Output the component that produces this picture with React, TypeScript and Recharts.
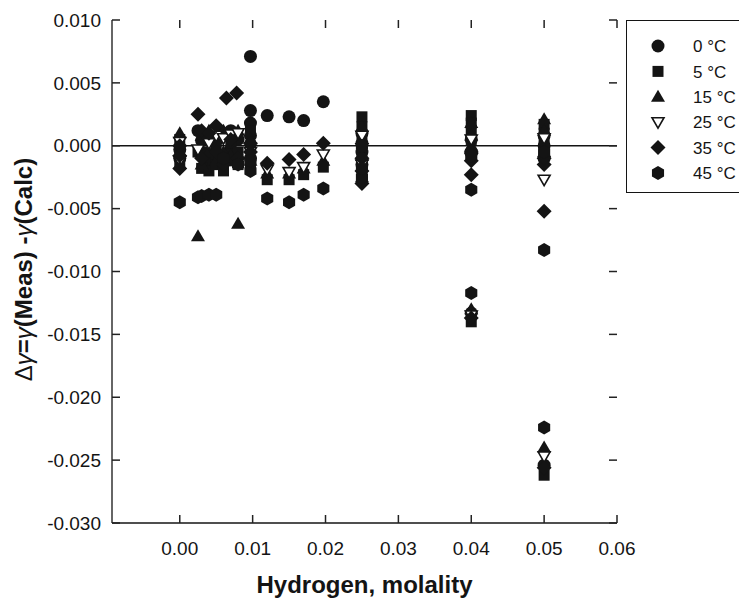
import { ReferenceLine, Scatter, ScatterChart, XAxis, YAxis } from 'recharts'

const FONT = '"Liberation Sans", Arial, Helvetica, sans-serif'
const INK = '#141414'

// [molality, Δγ] pairs
const pts0C = [
  [0, -0.0003], [0, -0.001], [0.0025, 0.0012], [0.003, 0.0004], [0.004, 0.0008],
  [0.004, -0.0012], [0.005, -0.0008], [0.006, 0.001], [0.007, 0.0012], [0.007, -0.0003],
  [0.008, 0.0005], [0.0097, 0.0071], [0.0097, 0.0028], [0.0097, 0.0018], [0.0097, 0.0008],
  [0.0097, -0.001], [0.012, 0.0024], [0.015, 0.0023], [0.017, 0.002], [0.0197, 0.0035],
  [0.025, 0.001], [0.025, 0.0002], [0.025, -0.0005], [0.025, -0.0015], [0.04, 0.0005],
  [0.04, -0.0005], [0.04, -0.0133], [0.05, 0.0008], [0.05, 0.0], [0.05, -0.001],
  [0.05, -0.0254],
]
const pts5C = [
  [0, 0.0005], [0, -0.0008], [0, -0.0015], [0.0025, -0.0005], [0.003, -0.0018],
  [0.003, -0.0005], [0.004, -0.002], [0.004, 0.0005], [0.005, -0.0015], [0.005, 0.0],
  [0.006, -0.001], [0.006, -0.002], [0.007, -0.0012], [0.007, 0.0002], [0.008, -0.0005],
  [0.008, -0.0015], [0.0097, 0.0012], [0.0097, 0.0], [0.0097, -0.0015], [0.012, -0.0027],
  [0.015, -0.0027], [0.017, -0.0023], [0.0197, -0.0017], [0.025, 0.0023], [0.025, 0.0015],
  [0.025, 0.0005], [0.025, -0.001], [0.025, -0.002], [0.04, 0.0024], [0.04, 0.0018],
  [0.04, 0.0012], [0.04, 0.0005], [0.04, -0.014], [0.05, 0.0017], [0.05, 0.001],
  [0.05, 0.0002], [0.05, -0.0008], [0.05, -0.0262],
]
const pts15C = [
  [0, 0.001], [0, -0.0005], [0.0025, -0.0072], [0.003, 0.0008], [0.003, -0.0015],
  [0.004, -0.0005], [0.004, 0.0012], [0.005, 0.0005], [0.005, -0.0012], [0.006, -0.0005],
  [0.006, 0.0012], [0.007, -0.0008], [0.008, -0.0062], [0.008, 0.0012], [0.0097, 0.0005],
  [0.0097, -0.0012], [0.012, -0.0022], [0.015, -0.0022], [0.017, -0.0018], [0.0197, -0.0012],
  [0.025, 0.0015], [0.025, -0.0008], [0.025, -0.0025], [0.04, 0.0018], [0.04, 0.0008],
  [0.04, 0.0], [0.04, -0.013], [0.05, 0.0021], [0.05, 0.0012], [0.05, -0.0005],
  [0.05, -0.024],
]
const pts25C = [
  [0, -0.0012], [0, 0.0003], [0.0025, -0.0003], [0.004, 0.0002], [0.005, 0.0008],
  [0.006, 0.0006], [0.007, 0.0009], [0.008, 0.001], [0.0097, -0.0005], [0.012, -0.0019],
  [0.015, -0.0021], [0.017, -0.0017], [0.0197, -0.0007], [0.025, 0.0008], [0.025, -0.0002],
  [0.025, -0.0015], [0.04, 0.0005], [0.04, -0.001], [0.04, -0.0135], [0.05, 0.0006],
  [0.05, -0.0027], [0.05, -0.0247],
]
const pts35C = [
  [0, -0.0018], [0, -0.0008], [0, 0.0], [0.0025, 0.0025], [0.003, -0.001],
  [0.003, 0.0012], [0.004, 0.001], [0.005, 0.0016], [0.005, -0.0005], [0.006, -0.0015],
  [0.0064, 0.0038], [0.007, 0.0005], [0.0078, 0.0042], [0.008, -0.001], [0.0097, 0.0002],
  [0.0097, -0.0005], [0.012, -0.0014], [0.015, -0.0011], [0.017, -0.0007], [0.0197, 0.0002],
  [0.025, -0.003], [0.025, -0.002], [0.025, -0.001], [0.04, -0.0023], [0.04, -0.0012],
  [0.04, -0.0005], [0.04, -0.0137], [0.05, -0.0052], [0.05, -0.0015], [0.05, -0.001],
  [0.05, -0.0256],
]
const pts45C = [
  [0, -0.0045], [0.0025, -0.0041], [0.003, -0.004], [0.004, -0.0039], [0.005, -0.0039],
  [0.006, -0.001], [0.008, -0.0015], [0.0097, -0.002], [0.0097, -0.0012], [0.012, -0.0042],
  [0.015, -0.0045], [0.017, -0.0039], [0.0197, -0.0034], [0.025, -0.0025], [0.025, -0.0018],
  [0.025, 0.0], [0.04, -0.0008], [0.04, -0.0035], [0.04, -0.0117], [0.05, -0.0005],
  [0.05, -0.0083], [0.05, -0.0224],
]

const xTicks = [0, 0.01, 0.02, 0.03, 0.04, 0.05, 0.06]
const yTicks = [0.01, 0.005, 0, -0.005, -0.01, -0.015, -0.02, -0.025, -0.03]
const X_DOMAIN: [number, number] = [-0.0093, 0.06]
const Y_DOMAIN: [number, number] = [-0.03, 0.01]

type Kind = 'circle' | 'square' | 'triangle' | 'triangleDown' | 'diamond' | 'hexagon'

const SERIES: { name: string; kind: Kind; pts: number[][] }[] = [
  { name: '0 °C', kind: 'circle', pts: pts0C },
  { name: '5 °C', kind: 'square', pts: pts5C },
  { name: '15 °C', kind: 'triangle', pts: pts15C },
  { name: '25 °C', kind: 'triangleDown', pts: pts25C },
  { name: '35 °C', kind: 'diamond', pts: pts35C },
  { name: '45 °C', kind: 'hexagon', pts: pts45C },
]

// chart layout
const W = 739
const H = 593
const MARGIN = { top: 12, right: 130, bottom: 0, left: 0 }
const Y_AXIS_W = 104
const X_AXIS_H = 78
const PLOT_W = W - MARGIN.left - MARGIN.right - Y_AXIS_W
const PLOT_H = H - MARGIN.top - MARGIN.bottom - X_AXIS_H

function Marker({ kind, cx, cy }: { kind: Kind; cx: number; cy: number }) {
  if (cx == null || cy == null) return null
  switch (kind) {
    case 'circle':
      return <circle cx={cx} cy={cy} r={6.5} fill={INK} />
    case 'square':
      return <rect x={cx - 5.5} y={cy - 5.5} width={11} height={11} fill={INK} />
    case 'triangle':
      return <polygon points={`${cx},${cy - 7} ${cx - 7},${cy + 5} ${cx + 7},${cy + 5}`} fill={INK} />
    case 'triangleDown':
      return (
        <polygon
          points={`${cx - 6},${cy - 4.5} ${cx + 6},${cy - 4.5} ${cx},${cy + 6}`}
          fill="#fff"
          stroke={INK}
          strokeWidth={1.6}
        />
      )
    case 'diamond':
      return <polygon points={`${cx},${cy - 7.5} ${cx + 7.5},${cy} ${cx},${cy + 7.5} ${cx - 7.5},${cy}`} fill={INK} />
    case 'hexagon': {
      const r = 7
      const p = [0, 1, 2, 3, 4, 5]
        .map((k) => {
          const a = ((-90 + 60 * k) * Math.PI) / 180
          return `${cx + r * Math.cos(a)},${cy + r * Math.sin(a)}`
        })
        .join(' ')
      return <polygon points={p} fill={INK} />
    }
  }
  return null
}

const TICK_LEN = 8
const X_GAP = 19
const Y_GAP = 11
const TICK_FS = 19
const tickLineStyle = { stroke: '#222', strokeWidth: 1.5 }
const frame = { stroke: INK, strokeWidth: 1.3 }

// x labels plus inward tick marks on the bottom and top edges
function BottomTick({ x, y, payload }: any) {
  const bottom = y - X_GAP
  const top = bottom - PLOT_H
  return (
    <g>
      <line x1={x} x2={x} y1={bottom} y2={bottom - TICK_LEN} {...tickLineStyle} />
      <line x1={x} x2={x} y1={top} y2={top + TICK_LEN} {...tickLineStyle} />
      <text x={x} y={y} dy="0.71em" textAnchor="middle" fontFamily={FONT} fontSize={TICK_FS} fill={INK}>
        {Number(payload.value).toFixed(2)}
      </text>
    </g>
  )
}

// y labels plus inward tick marks on the left and right edges
function LeftTick({ x, y, payload }: any) {
  const left = x + Y_GAP
  const right = left + PLOT_W
  return (
    <g>
      <line x1={left} x2={left + TICK_LEN} y1={y} y2={y} {...tickLineStyle} />
      <line x1={right} x2={right - TICK_LEN} y1={y} y2={y} {...tickLineStyle} />
      <text x={x} y={y} dy="0.355em" textAnchor="end" fontFamily={FONT} fontSize={TICK_FS} fill={INK}>
        {Number(payload.value).toFixed(3)}
      </text>
    </g>
  )
}

function YTitle({ viewBox }: any) {
  const cx = 16
  const cy = viewBox.y + viewBox.height / 2 - 2
  return (
    <text
      x={cx}
      y={cy}
      dy="0.35em"
      transform={`rotate(-90 ${cx} ${cy})`}
      textAnchor="middle"
      fontFamily={FONT}
      fontSize={24}
      fontWeight="bold"
      fill={INK}
    >
      <tspan fontWeight="normal">Δ</tspan>
      <tspan fontWeight="normal" fontStyle="italic">γ</tspan>
      <tspan>=</tspan>
      <tspan fontWeight="normal" fontStyle="italic">γ</tspan>
      <tspan>(Meas) -</tspan>
      <tspan fontWeight="normal" fontStyle="italic">γ</tspan>
      <tspan>(Calc)</tspan>
    </text>
  )
}

function LegendBox() {
  return (
    <div
      style={{
        position: 'absolute',
        left: 618,
        top: 12,
        width: 150,
        height: 171,
        border: `1.5px solid ${INK}`,
        background: '#fff',
      }}
    >
      <svg width={150} height={171}>
        {SERIES.map((s, i) => {
          const cy = 25 + 25.4 * i
          return (
            <g key={s.name}>
              <Marker kind={s.kind} cx={31} cy={cy} />
              <text x={66} y={cy} dy="0.36em" fontFamily={FONT} fontSize={17} fill={INK}>
                {s.name}
              </text>
            </g>
          )
        })}
      </svg>
    </div>
  )
}

export default function App() {
  return (
    <div style={{ position: 'relative', width: W, height: H, overflow: 'hidden', background: '#fff' }}>
      <ScatterChart width={W} height={H} margin={MARGIN}>
        <XAxis
          type="number"
          dataKey="x"
          domain={X_DOMAIN}
          ticks={xTicks}
          interval={0}
          allowDataOverflow
          height={X_AXIS_H}
          tickSize={0}
          tickMargin={X_GAP}
          tickLine={false}
          tick={BottomTick}
          axisLine={frame}
          label={{
            value: 'Hydrogen, molality',
            position: 'insideBottom',
            offset: 8,
            style: { fontFamily: FONT, fontSize: 24, fontWeight: 'bold', fill: INK },
          }}
        />
        <XAxis
          xAxisId="top"
          orientation="top"
          type="number"
          domain={X_DOMAIN}
          allowDataOverflow
          height={0}
          tickLine={false}
          tick={false}
          axisLine={frame}
        />
        <YAxis
          type="number"
          dataKey="y"
          domain={Y_DOMAIN}
          ticks={yTicks}
          interval={0}
          allowDataOverflow
          width={Y_AXIS_W}
          tickSize={0}
          tickMargin={Y_GAP}
          tickLine={false}
          tick={LeftTick}
          axisLine={frame}
          label={{ content: YTitle }}
        />
        <YAxis
          yAxisId="right"
          orientation="right"
          type="number"
          domain={Y_DOMAIN}
          allowDataOverflow
          width={0}
          tickLine={false}
          tick={false}
          axisLine={frame}
        />
        <ReferenceLine y={0} stroke={INK} strokeWidth={1.3} />
        {SERIES.map((s) => (
          <Scatter
            key={s.name}
            name={s.name}
            data={s.pts.map(([x, y]) => ({ x, y }))}
            isAnimationActive={false}
            shape={(p: any) => <Marker kind={s.kind} cx={p.cx} cy={p.cy} />}
          />
        ))}
      </ScatterChart>
      <LegendBox />
    </div>
  )
}
